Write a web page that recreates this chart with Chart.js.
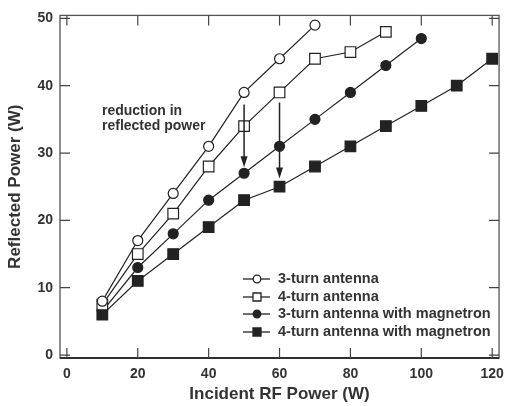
<!DOCTYPE html>
<html>
<head>
<meta charset="utf-8">
<script src="https://cdn.jsdelivr.net/npm/chart.js@4.4.0/dist/chart.umd.min.js"></script>
<style>
  html, body { margin: 0; padding: 0; background: #fff; }
  #wrap { width: 512px; height: 406px; }
</style>
</head>
<body>
<div id="wrap"><canvas id="rfChart" width="512" height="406"></canvas></div>
<script>
// data
const incident3 = [10, 20, 30, 40, 50, 60, 70];
const turn3 = [8, 17, 24, 31, 39, 44, 49];

const incident4 = [10, 20, 30, 40, 50, 60, 70, 80, 90];
const turn4 = [7.5, 15, 21, 28, 34, 39, 44, 45, 48];

const incident3m = [10, 20, 30, 40, 50, 60, 70, 80, 90, 100];
const turn3mag = [6.5, 13, 18, 23, 27, 31, 35, 39, 43, 47];

const incident4m = [10, 20, 30, 40, 50, 60, 70, 80, 90, 100, 110, 120];
const turn4mag = [6, 11, 15, 19, 23, 25, 28, 31, 34, 37, 40, 44];

const xTicks = [0, 20, 40, 60, 80, 100, 120];
const yTicks = [0, 10, 20, 30, 40, 50];

const seriesNames = [
  "3-turn antenna",
  "4-turn antenna",
  "3-turn antenna with magnetron",
  "4-turn antenna with magnetron",
];

// arrows: x position, start value, end value
const arrowX = [50, 60];
const arrowFrom = [37.2, 37.5];
const arrowTo = [27.9, 26.2];

const noteLines = ["reduction in", "reflected power"];

const ink = "#222";
const textCol = "#333";
const fontFam = "'Liberation Sans', Arial, sans-serif";

function toPoints(xs, ys) {
  return xs.map((x, i) => ({ x: x, y: ys[i] }));
}

const styles = [
  { pointStyle: "circle", pointRadius: 5, fill: "#fff" },
  { pointStyle: "rect", pointRadius: 7.5, fill: "#fff" },
  { pointStyle: "circle", pointRadius: 5, fill: ink },
  { pointStyle: "rect", pointRadius: 7.5, fill: ink },
];

const allData = [
  toPoints(incident3, turn3),
  toPoints(incident4, turn4),
  toPoints(incident3m, turn3mag),
  toPoints(incident4m, turn4mag),
];

const datasets = allData.map((pts, i) => ({
  label: seriesNames[i],
  data: pts,
  borderColor: ink,
  borderWidth: 1.2,
  pointStyle: styles[i].pointStyle,
  pointRadius: styles[i].pointRadius,
  pointBackgroundColor: styles[i].fill,
  pointBorderColor: ink,
  pointBorderWidth: 1.2,
  showLine: true,
  tension: 0,
}));

// inner ticks on all four sides, mirrored box, legend and arrows
const extrasPlugin = {
  id: "extras",
  afterDatasetsDraw(chart) {
    const ctx = chart.ctx;
    const xs = chart.scales.x;
    const ys = chart.scales.y;
    const a = chart.chartArea;
    const tickLen = 10;

    ctx.save();
    ctx.strokeStyle = "#555";
    ctx.lineWidth = 1.3;
    ctx.strokeRect(a.left, a.top, a.right - a.left, a.bottom - a.top);
    ctx.strokeStyle = "#111";
    ctx.lineWidth = 1.6;
    ctx.beginPath();
    ctx.moveTo(a.left, a.bottom);
    ctx.lineTo(a.right, a.bottom);
    ctx.stroke();

    ctx.strokeStyle = "#444";
    ctx.lineWidth = 1.2;
    ctx.beginPath();
    xTicks.forEach((v) => {
      const px = xs.getPixelForValue(v);
      ctx.moveTo(px, a.bottom);
      ctx.lineTo(px, a.bottom - tickLen);
      ctx.moveTo(px, a.top);
      ctx.lineTo(px, a.top + tickLen);
    });
    yTicks.forEach((v) => {
      const py = ys.getPixelForValue(v);
      ctx.moveTo(a.left, py);
      ctx.lineTo(a.left + tickLen, py);
      ctx.moveTo(a.right, py);
      ctx.lineTo(a.right - tickLen, py);
    });
    ctx.stroke();

    // arrows
    ctx.strokeStyle = ink;
    ctx.fillStyle = ink;
    ctx.lineWidth = 1.5;
    arrowX.forEach((x, i) => {
      const px = xs.getPixelForValue(x);
      const y0 = ys.getPixelForValue(arrowFrom[i]);
      const y1 = ys.getPixelForValue(arrowTo[i]);
      ctx.beginPath();
      ctx.moveTo(px, y0);
      ctx.lineTo(px, y1 - 9);
      ctx.stroke();
      ctx.beginPath();
      ctx.moveTo(px, y1);
      ctx.lineTo(px - 3.5, y1 - 11);
      ctx.lineTo(px + 3.5, y1 - 11);
      ctx.closePath();
      ctx.fill();
    });

    // annotation
    ctx.font = "bold 14px " + fontFam;
    ctx.fillStyle = textCol;
    ctx.textAlign = "left";
    ctx.textBaseline = "middle";
    ctx.fillText(noteLines[0], 102, 111);
    ctx.fillText(noteLines[1], 102, 126);

    // legend
    ctx.font = "bold 14.5px " + fontFam;
    const lx0 = 243, lx1 = 270, mx = 257, tx = 278;
    const rows = [279, 297, 314, 332];
    seriesNames.forEach((name, i) => {
      const y = rows[i];
      ctx.strokeStyle = ink;
      ctx.lineWidth = 1.3;
      ctx.beginPath();
      ctx.moveTo(lx0, y);
      ctx.lineTo(lx1, y);
      ctx.stroke();
      ctx.fillStyle = styles[i].fill;
      ctx.beginPath();
      if (styles[i].pointStyle === "circle") {
        ctx.arc(mx, y, 3.8, 0, Math.PI * 2);
      } else {
        ctx.rect(mx - 4, y - 4, 8, 8);
      }
      ctx.fill();
      ctx.stroke();
      ctx.fillStyle = textCol;
      ctx.fillText(name, tx, y);
    });
    ctx.restore();
  },
};

const ctx = document.getElementById("rfChart").getContext("2d");
const rfChart = new Chart(ctx, {
  type: "scatter",
  data: { datasets: datasets },
  options: {
    responsive: false,
    animation: false,
    layout: { padding: { left: 0, right: 4, top: 12, bottom: 0 } },
    plugins: {
      legend: { display: false },
      tooltip: { enabled: false },
    },
    scales: {
      x: {
        type: "linear",
        min: -1.94,
        max: 121.94,
        afterBuildTicks: (scale) => {
          scale.ticks = xTicks.map((v) => ({ value: v }));
        },
        afterFit: (scale) => {
          scale.height = 48;
        },
        grid: { display: false, drawTicks: false },
        border: { display: false },
        ticks: {
          color: textCol,
          padding: 8,
          font: { family: fontFam, size: 14, weight: "bold" },
        },
        title: {
          display: true,
          text: "Incident RF Power (W)",
          color: textCol,
          padding: { top: 4, bottom: 1 },
          font: { family: fontFam, size: 17, weight: "bold" },
        },
      },
      y: {
        type: "linear",
        min: -0.44,
        max: 50.44,
        afterBuildTicks: (scale) => {
          scale.ticks = yTicks.map((v) => ({ value: v }));
        },
        afterFit: (scale) => {
          scale.width = 60;
        },
        grid: { display: false, drawTicks: false },
        border: { display: false },
        ticks: {
          color: textCol,
          padding: 7,
          font: { family: fontFam, size: 14, weight: "bold" },
        },
        title: {
          display: true,
          text: "Reflected Power (W)",
          color: textCol,
          padding: { top: 5, bottom: 0 },
          font: { family: fontFam, size: 17, weight: "bold" },
        },
      },
    },
  },
  plugins: [extrasPlugin],
});
</script>
</body>
</html>
